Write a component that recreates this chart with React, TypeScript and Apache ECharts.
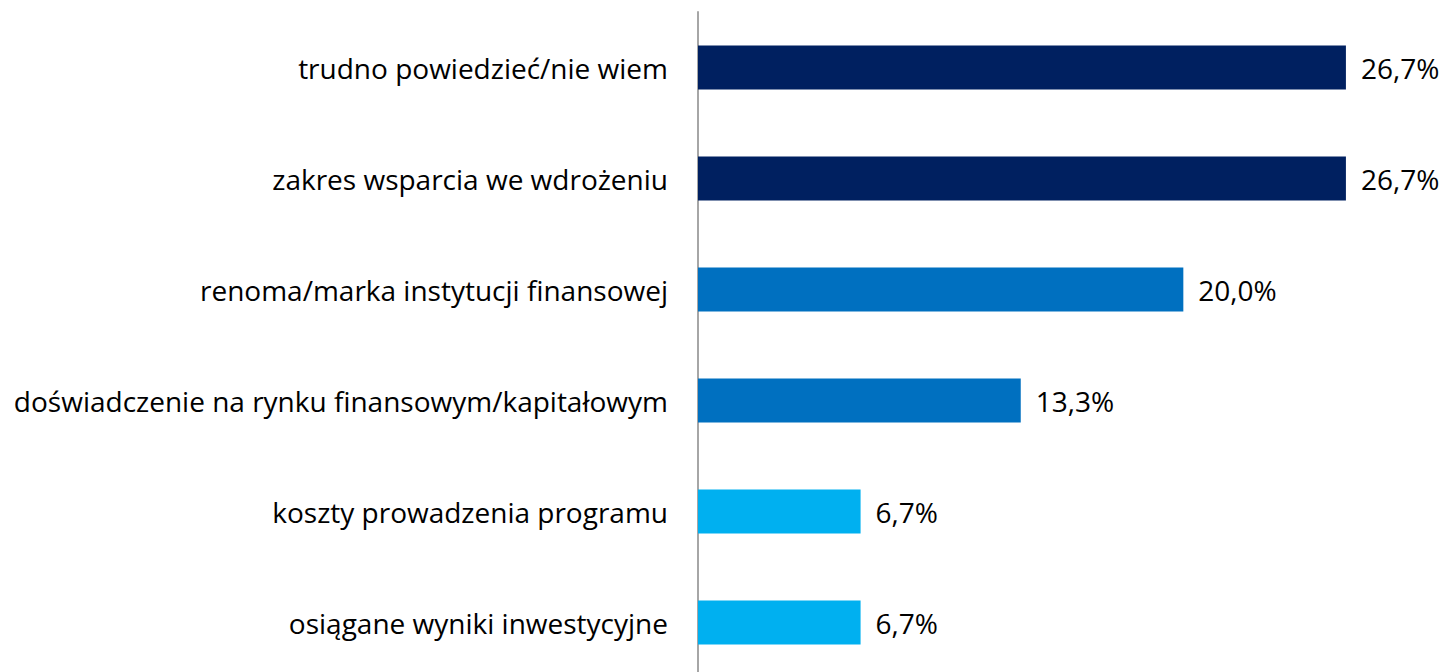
import React, { useEffect, useRef } from "react";
import * as echarts from "echarts";

const categories = [
  "trudno powiedzieć/nie wiem",
  "zakres wsparcia we wdrożeniu",
  "renoma/marka instytucji finansowej",
  "doświadczenie na rynku finansowym/kapitałowym",
  "koszty prowadzenia programu",
  "osiągane wyniki inwestycyjne",
];
const values = [26.7, 26.7, 20.0, 13.3, 6.7, 6.7];
const barColors = ["#002060", "#002060", "#0070C0", "#0070C0", "#00B0F0", "#00B0F0"];

export default function App() {
  const ref = useRef<HTMLDivElement>(null);
  useEffect(() => {
    if (!ref.current) return;
    const chart = echarts.init(ref.current, null, { renderer: "svg" });
    chart.setOption({
      animation: false,
      grid: { left: 698, right: 21, top: 12, bottom: 0, containLabel: false },
      xAxis: {
        type: "value",
        min: 0,
        max: 30,
        show: false,
      },
      yAxis: {
        type: "category",
        inverse: true,
        data: categories,
        axisLine: { show: true, lineStyle: { color: "#A6A6A6", width: 2 } },
        axisTick: { show: false },
        axisLabel: {
          margin: 30,
          color: "#000",
          fontSize: 28,
          fontFamily: "Open Sans",
        },
      },
      series: [
        {
          type: "bar",
          barWidth: 44,
          data: values.map((v, i) => ({ value: v, itemStyle: { color: barColors[i] } })),
          label: {
            show: true,
            position: "right",
            distance: 15,
            color: "#000",
            fontSize: 28,
            fontFamily: "Open Sans",
            formatter: (p: any) => p.value.toFixed(1).replace(".", ",") + "%",
          },
        },
      ],
    });
    return () => chart.dispose();
  }, []);
  return (
    <div
      ref={ref}
      style={{ position: "absolute", left: 0, top: 0, width: 1447, height: 678 }}
    />
  );
}
